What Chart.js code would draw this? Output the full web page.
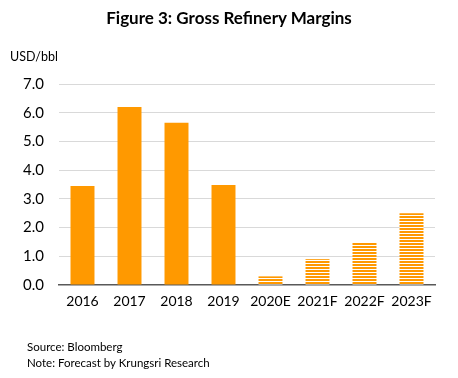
<!DOCTYPE html>
<html>
<head>
<meta charset="utf-8">
<script src="https://cdn.jsdelivr.net/npm/chart.js@4/dist/chart.umd.min.js"></script>
<style>
  html, body { margin: 0; padding: 0; background: #fff; }
  #wrap { position: relative; width: 458px; height: 378px; overflow: hidden; font-family: Lato, "Open Sans", sans-serif; color: #000; }
  #c { position: absolute; left: 0; top: 0; }
  .t { position: absolute; white-space: nowrap; line-height: 1; }
  #title { left: 0; width: 458px; top: 9px; text-align: center; font-weight: bold; font-size: 17px; }
  #unit { left: 10px; top: 51px; font-size: 12.5px; }
  #src { left: 27px; top: 341px; font-size: 11.5px; }
  #note { left: 27px; top: 357px; font-size: 11.5px; }
</style>
</head>
<body>
<div id="wrap">
  <canvas id="c" width="458" height="378"></canvas>
  <div class="t" id="title">Figure 3: Gross Refinery Margins</div>
  <div class="t" id="unit">USD/bbl</div>
  <div class="t" id="src">Source: Bloomberg</div>
  <div class="t" id="note">Note: Forecast by Krungsri Research</div>
</div>
<script>
const categories = ["2016", "2017", "2018", "2019", "2020E", "2021F", "2022F", "2023F"];
const margins = [3.45, 6.2, 5.65, 3.48, 0.3, 0.9, 1.5, 2.5];
const isForecast = [false, false, false, false, true, true, true, true];
const yTicks = [0, 1, 2, 3, 4, 5, 6, 7];

const ORANGE = "#FF9900";

function stripePattern() {
  const p = document.createElement("canvas");
  p.width = 4; p.height = 3;
  const g = p.getContext("2d");
  g.fillStyle = "#ffffff";
  g.fillRect(0, 0, 4, 3);
  g.fillStyle = ORANGE;
  g.fillRect(0, 0, 4, 2);
  return document.getElementById("c").getContext("2d").createPattern(p, "repeat");
}
const stripes = stripePattern();

new Chart(document.getElementById("c"), {
  type: "bar",
  data: {
    labels: categories,
    datasets: [{
      data: margins,
      backgroundColor: isForecast.map(f => f ? stripes : ORANGE),
      borderWidth: 0,
      categoryPercentage: 1,
      barPercentage: 0.51
    }]
  },
  options: {
    responsive: false,
    animation: false,
    devicePixelRatio: 1,
    layout: { padding: { top: 84, right: 23, bottom: 63, left: 0 } },
    plugins: { legend: { display: false }, tooltip: { enabled: false }, title: { display: false } },
    scales: {
      x: {
        grid: { display: false, drawTicks: false },
        border: { display: true, color: "#595959", width: 1.5 },
        ticks: { padding: 8, color: "#000", font: { family: "Lato", size: 14 }, maxRotation: 0 },
        afterFit: s => { s.height = 30; }
      },
      y: {
        min: 0, max: 7,
        afterBuildTicks: s => { s.ticks = yTicks.map(v => ({ value: v })); },
        grid: {
          drawTicks: false,
          color: ctx => (ctx.tick && ctx.tick.value === 0) ? "rgba(0,0,0,0)" : "#D9D9D9",
          lineWidth: 1
        },
        border: { display: false },
        ticks: {
          padding: 15, color: "#000",
          font: { family: "Lato", size: 15 },
          callback: v => Number(v).toFixed(1)
        },
        afterFit: s => { s.width = 59; }
      }
    }
  }
});
</script>
</body>
</html>
